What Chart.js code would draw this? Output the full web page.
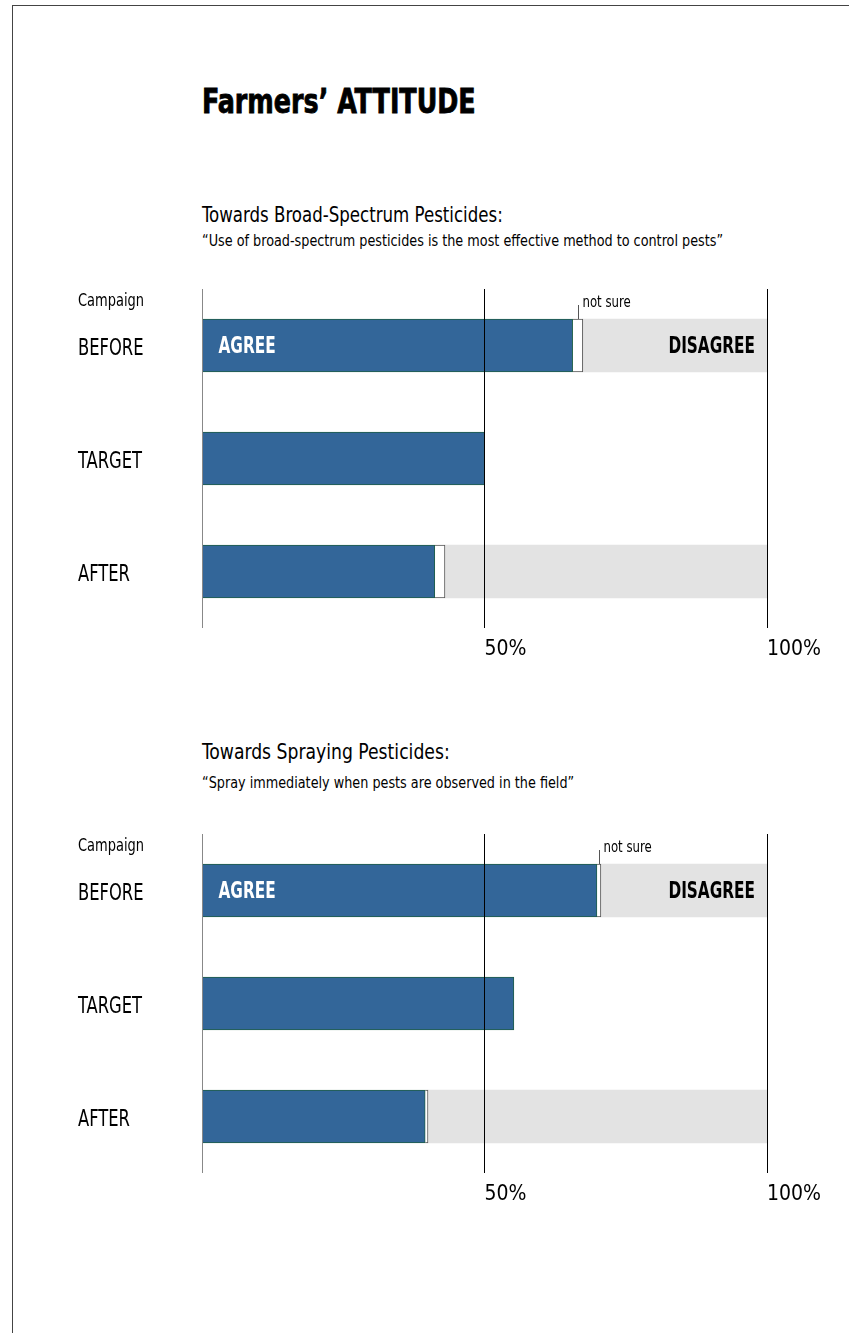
<!DOCTYPE html>
<html>
<head>
<meta charset="utf-8">
<title>Farmers' Attitude</title>
<script src="https://cdn.jsdelivr.net/npm/chart.js@4.4.1/dist/chart.umd.min.js"></script>
<style>
  body { margin: 0; background: #fff; font-family: 'Liberation Sans Narrow', 'DejaVu Sans Condensed', sans-serif; }
  #page { position: relative; width: 849px; height: 1333px; overflow: hidden; }
  .frame { position: absolute; left: 12px; top: 5px; right: -2px; bottom: -2px; border-left: 1px solid #444; border-top: 1px solid #444; }
  .txt { position: absolute; left: 202px; white-space: nowrap; color: #000; line-height: 1; transform-origin: left center; }
  .title { top: 84px; font-size: 34px; font-weight: bold; transform: scaleX(0.83); -webkit-text-stroke: 0.8px #000; }
  .sub { font-size: 22px; transform: scaleX(0.84); }
  .quote { font-size: 16px; transform: scaleX(0.89); }
  canvas { position: absolute; left: 0; }
</style>
</head>
<body>
<div id="page">
  <div class="frame"></div>
  <div class="txt title">Farmers’ ATTITUDE</div>

  <div class="txt sub" style="top:204px">Towards Broad-Spectrum Pesticides:</div>
  <div class="txt quote" style="top:233px">“Use of broad-spectrum pesticides is the most effective method to control pests”</div>
  <canvas id="chartBroad" width="849" height="400" style="top:270px"></canvas>

  <div class="txt sub" style="top:741px; transform: scaleX(0.87)">Towards Spraying Pesticides:</div>
  <div class="txt quote" style="top:775px">“Spray immediately when pests are observed in the field”</div>
  <canvas id="chartSpray" width="849" height="400" style="top:815px"></canvas>
</div>

<script>
// campaign stages (rows)
const campaigns = ['BEFORE', 'TARGET', 'AFTER'];

// Broad-spectrum pesticides, % of farmers
const broadAgree = [65.6, 50, 41.2];
const broadNotSure = [1.8, null, 1.8];
const broadDisagree = [32.6, null, 57.0];

// Spraying pesticides, % of farmers
const sprayAgree = [69.9, 55.2, 39.5];
const sprayNotSure = [0.7, null, 0.5];
const sprayDisagree = [29.4, null, 60.0];

// x axis ticks
const tickValues = [0, 50, 100];
const tickLabels = ['', '50%', '100%'];

const FONT = "'Liberation Sans Narrow', 'DejaVu Sans Condensed', sans-serif";

// draw text squeezed horizontally (the original uses a condensed face)
function squeezeText(ctx, text, x, y, sx, align) {
    ctx.save();
    ctx.translate(x, y);
    ctx.scale(sx, 1);
    ctx.textAlign = align || 'left';
    ctx.fillText(text, 0, 0);
    ctx.restore();
}

// row labels, Campaign, AGREE / DISAGREE, "not sure" pointer
const labelsPlugin = {
    id: 'extraLabels',
    afterDraw(chart) {
        const ctx = chart.ctx;
        const area = chart.chartArea;
        const yScale = chart.scales.y;
        const agree = chart.getDatasetMeta(0).data[0];
        const unsure = chart.getDatasetMeta(1).data[0];
        const disagree = chart.getDatasetMeta(2).data[0];

        ctx.save();
        ctx.fillStyle = '#000';
        ctx.textBaseline = 'middle';

        ctx.font = '17px ' + FONT;
        squeezeText(ctx, 'Campaign', yScale.left, area.top + 13, 0.85);

        ctx.font = '23px ' + FONT;
        campaigns.forEach((c, i) => {
            squeezeText(ctx, c, yScale.left, yScale.getPixelForTick(i) + 4, 0.79);
        });

        ctx.font = 'bold 23px ' + FONT;
        ctx.fillStyle = '#fff';
        squeezeText(ctx, 'AGREE', agree.base + 16, agree.y + 2, 0.74);

        ctx.fillStyle = '#000';
        squeezeText(ctx, 'DISAGREE', disagree.x - 12, disagree.y + 2, 0.74, 'right');

        // leader line for "not sure"
        const midX = Math.round((unsure.x + unsure.base) / 2) + 0.5;
        const top = unsure.y - unsure.height / 2;
        ctx.strokeStyle = '#555';
        ctx.lineWidth = 1;
        ctx.beginPath();
        ctx.moveTo(midX, top);
        ctx.lineTo(midX, top - 14);
        ctx.stroke();
        ctx.font = '15px ' + FONT;
        squeezeText(ctx, 'not sure', midX + 4, top - 16, 0.87);
        ctx.restore();
    }
};

function makeChart(id, agree, notSure, disagree) {
    return new Chart(document.getElementById(id), {
        type: 'bar',
        data: {
            labels: campaigns,
            datasets: [{
                label: 'Agree',
                data: agree,
                backgroundColor: '#336699',
                borderColor: '#1f5e48',
                borderWidth: 1
            }, {
                label: 'Not sure',
                data: notSure,
                backgroundColor: '#ffffff',
                borderColor: '#555555',
                borderWidth: 1
            }, {
                label: 'Disagree',
                data: disagree,
                backgroundColor: '#e3e3e3',
                borderWidth: 0
            }]
        },
        options: {
            indexAxis: 'y',
            responsive: false,
            animation: false,
            layout: { padding: { top: 19, left: 78, right: 82, bottom: 0 } },
            datasets: { bar: { barThickness: 53 } },
            scales: {
                x: {
                    stacked: true,
                    min: 0,
                    max: 100,
                    afterBuildTicks: (axis) => {
                        axis.ticks = tickValues.map(v => ({ value: v }));
                    },
                    afterFit: (axis) => { axis.height = 42; },
                    grid: {
                        z: 1,
                        drawTicks: false,
                        color: (c) => c.tick && c.tick.value === 0 ? '#888' : '#000'
                    },
                    border: { display: false },
                    ticks: {
                        align: 'start',
                        padding: 9,
                        color: '#000',
                        font: { family: FONT, size: 21 },
                        callback: (v) => tickLabels[tickValues.indexOf(v)]
                    }
                },
                y: {
                    stacked: true,
                    afterFit: (axis) => { axis.width = 124; },
                    grid: { display: false },
                    border: { display: false },
                    ticks: { display: false }
                }
            },
            plugins: {
                legend: { display: false },
                tooltip: { enabled: false }
            }
        },
        plugins: [labelsPlugin]
    });
}

makeChart('chartBroad', broadAgree, broadNotSure, broadDisagree);
makeChart('chartSpray', sprayAgree, sprayNotSure, sprayDisagree);
</script>
</body>
</html>
